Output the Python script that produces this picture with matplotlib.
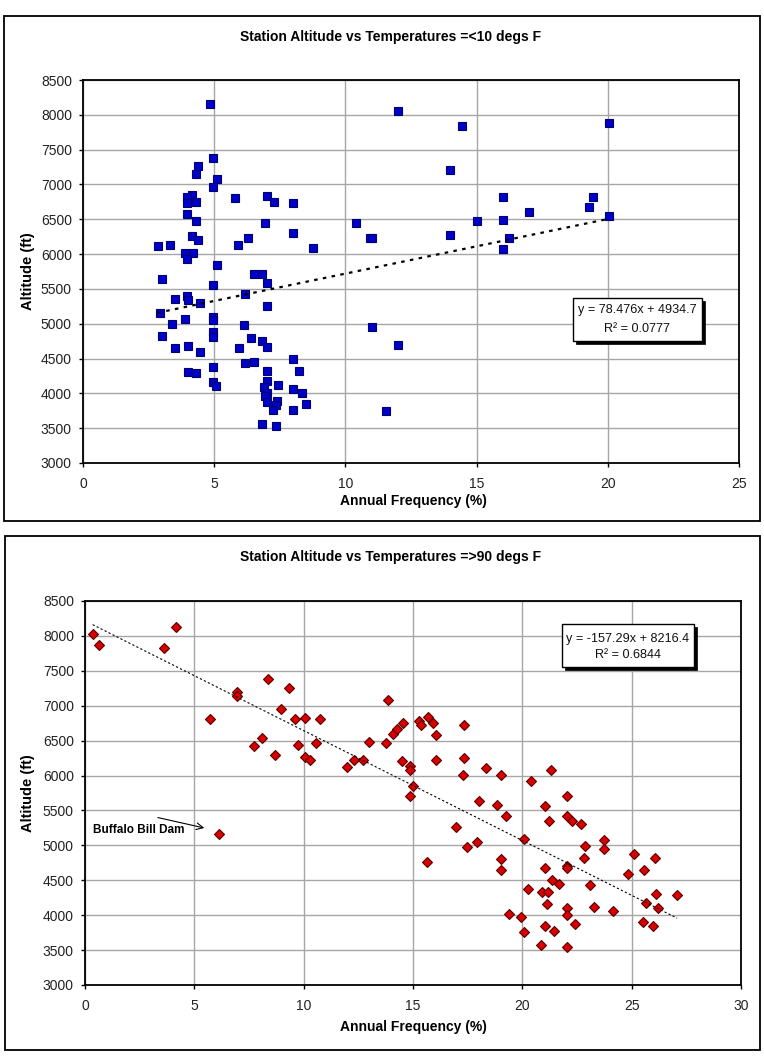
import matplotlib
matplotlib.use("Agg")
import matplotlib.pyplot as plt
from matplotlib.patches import Rectangle
import numpy as np

plt.rcParams['font.family'] = ['Liberation Sans', 'DejaVu Sans']

# ---------------- data ----------------
cold_title = "Station Altitude vs Temperatures =<10 degs F"
hot_title = "Station Altitude vs Temperatures =>90 degs F"
x_label = "Annual Frequency (%)"
y_label = "Altitude (ft)"

cold_freq = [4.85, 12.0, 14.45, 20.05, 4.97, 4.40, 4.31, 5.10, 4.97, 14.0,
             4.15, 3.98, 3.98, 4.31, 5.81, 7.01, 7.29, 8.0, 16.0, 19.45,
             19.3, 17.0, 20.05, 3.98, 4.31, 6.95, 10.4, 15.0, 16.0, 8.0,
             4.15, 4.38, 6.30, 2.84, 3.31, 5.92, 10.95, 11.0, 14.0, 16.25,
             8.75, 16.0, 3.89, 4.21, 3.98, 5.10, 3.0, 6.53, 6.82, 7.01,
             4.97, 3.95, 3.51, 3.99, 4.44, 6.16, 7.01, 2.94, 4.97, 4.97,
             3.38, 3.87, 6.12, 4.97, 4.97, 3.0, 6.40, 6.82, 7.01, 3.49,
             4.0, 4.44, 5.95, 8.0, 6.16, 6.53, 7.01, 8.22, 4.0, 4.31,
             4.97, 4.97, 5.08, 7.01, 6.91, 7.45, 8.0, 8.35, 7.01, 6.95,
             7.01, 7.39, 7.37, 7.23, 8.48, 8.0, 11.53, 6.82, 7.35, 11.0,
             12.0]
cold_alt = [8150, 8055, 7845, 7885, 7385, 7265, 7150, 7085, 6965, 7205,
            6845, 6825, 6740, 6750, 6800, 6830, 6750, 6730, 6815, 6825,
            6680, 6605, 6550, 6575, 6475, 6440, 6440, 6480, 6490, 6305,
            6260, 6200, 6235, 6115, 6125, 6125, 6230, 6230, 6270, 6225,
            6090, 6075, 6020, 6020, 5930, 5850, 5640, 5710, 5710, 5585,
            5555, 5400, 5355, 5335, 5300, 5425, 5255, 5160, 5100, 5050,
            4995, 5075, 4980, 4875, 4805, 4825, 4795, 4750, 4670, 4645,
            4680, 4595, 4645, 4500, 4430, 4450, 4320, 4325, 4310, 4295,
            4380, 4165, 4105, 4175, 4095, 4115, 4065, 4005, 4010, 3960,
            3870, 3890, 3840, 3765, 3845, 3755, 3750, 3565, 3535, 4955,
            4690]

hot_freq = [0.35, 0.66, 3.59, 4.16, 5.73, 6.93, 6.97, 8.37, 9.31, 8.96,
            9.62, 7.72, 8.11, 8.71, 9.75, 10.05, 10.73, 10.55, 10.05, 10.28,
            12.0, 12.28, 12.71, 12.97, 13.78, 13.85, 14.07, 14.27, 14.53, 15.26,
            15.37, 15.69, 15.93, 16.05, 16.05, 14.5, 14.88, 14.88, 15.01, 14.88,
            6.12, 15.66, 17.31, 17.31, 17.28, 18.36, 19.04, 20.41, 21.33, 18.04,
            18.82, 19.24, 16.97, 17.46, 17.92, 19.04, 19.04, 20.06, 22.03, 21.04,
            21.24, 22.03, 22.25, 22.67, 22.87, 23.75, 23.75, 22.81, 22.03, 22.03,
            21.04, 25.09, 26.07, 24.82, 25.58, 21.34, 21.68, 23.09, 20.26, 20.9,
            21.19, 21.12, 22.03, 22.03, 23.26, 24.14, 26.1, 27.08, 25.66, 26.19,
            25.52, 25.96, 19.39, 19.95, 20.06, 21.04, 21.44, 22.39, 20.86, 22.03]
hot_alt = [8030, 7866, 7832, 8130, 6805, 7199, 7137, 7378, 7258, 6956,
           6815, 6430, 6537, 6298, 6431, 6827, 6808, 6465, 6265, 6226,
           6116, 6216, 6226, 6479, 6465, 7080, 6594, 6665, 6751, 6788,
           6727, 6837, 6751, 6574, 6216, 6202, 6130, 6073, 5844, 5702,
           5164, 4758, 6717, 6251, 6012, 6108, 6012, 5926, 6083, 5640,
           5583, 5426, 5258, 4978, 5054, 4806, 4653, 5097, 5702, 5559,
           5354, 5416, 5344, 5307, 4997, 5082, 4954, 4820, 4700, 4672,
           4677, 4877, 4815, 4596, 4643, 4510, 4453, 4429, 4380, 4329,
           4334, 4167, 4106, 4000, 4115, 4067, 4310, 4292, 4177, 4106,
           3900, 3852, 4010, 3971, 3757, 3852, 3767, 3877, 3571, 3542]

cold_xticks = [0, 5, 10, 15, 20, 25]
hot_xticks = [0, 5, 10, 15, 20, 25, 30]
alt_ticks = [3000, 3500, 4000, 4500, 5000, 5500, 6000, 6500, 7000, 7500, 8000, 8500]

cold_slope, cold_icept, cold_r2 = 78.476, 4934.7, 0.0777
hot_slope, hot_icept, hot_r2 = -157.29, 8216.4, 0.6844

note_text = "Buffalo Bill Dam"

# ---------------- layout helpers ----------------
W, H = 764, 1056
fig = plt.figure(figsize=(W / 100, H / 100), dpi=100)
fig.patch.set_facecolor('white')


def fx(x):
    return x / W


def fy(y):
    return 1 - y / H


def frame(l, t, r, b, lw=1.3):
    fig.add_artist(Rectangle((fx(l), fy(b)), (r - l) / W, (b - t) / H,
                             transform=fig.transFigure, fill=False,
                             ec='black', lw=lw))


def eq_box(l, t, r, b, lines, ys):
    fig.add_artist(Rectangle((fx(l + 3), fy(b + 3)), (r - l) / W, (b - t) / H,
                             transform=fig.transFigure, fc='black', ec='black',
                             lw=0.5, zorder=10))
    fig.add_artist(Rectangle((fx(l), fy(b)), (r - l) / W, (b - t) / H,
                             transform=fig.transFigure, fc='white', ec='black',
                             lw=1.0, zorder=11))
    for s, yy in zip(lines, ys):
        fig.text(fx((l + r) / 2), fy(yy), s, ha='center', va='center',
                 fontsize=9.1, color='#111111', zorder=12)


def style_axes(ax, xticks):
    ax.set_xlim(xticks[0], xticks[-1])
    ax.set_ylim(alt_ticks[0], alt_ticks[-1])
    ax.set_xticks(xticks)
    ax.set_yticks(alt_ticks)
    ax.grid(True, color='#a6a6a6', lw=1.0)
    ax.set_axisbelow(True)
    for s in ax.spines.values():
        s.set_color('black')
        s.set_linewidth(1.3)
    ax.tick_params(axis='x', direction='out', length=3, width=1, pad=7,
                   labelsize=10, labelcolor='#222222')
    ax.tick_params(axis='y', direction='out', length=3, width=1, pad=5,
                   labelsize=10, labelcolor='#222222')


# ---------------- top chart ----------------
frame(4, 16, 760, 521)
ax1 = fig.add_axes([fx(83), fy(463), 656 / W, 383 / H])
style_axes(ax1, cold_xticks)
ax1.plot(cold_freq, cold_alt, ls='none', marker='s', ms=5.8,
         mfc='#0000C8', mec='#000070', mew=0.8, zorder=3)
xs = np.array([min(cold_freq), max(cold_freq)])
ax1.plot(xs, cold_slope * xs + cold_icept, color='black', lw=1.6,
         ls=(0, (1.6, 2.4)), zorder=4)
fig.text(fx(391), fy(37), cold_title, ha='center', va='center',
         fontsize=10, fontweight='bold')
fig.text(fx(413), fy(501), x_label, ha='center', va='center',
         fontsize=10, fontweight='bold')
fig.text(fx(28), fy(271), y_label, ha='center', va='center', rotation=90,
         fontsize=10.5, fontweight='bold')
eq_box(573, 298, 702, 341,
       [f"y = {cold_slope}x + {cold_icept}", f"R² = {cold_r2}"],
       [310, 329])

# ---------------- bottom chart ----------------
frame(5, 536, 760, 1050)
ax2 = fig.add_axes([fx(85), fy(985), 656 / W, 384 / H])
style_axes(ax2, hot_xticks)
ax2.plot(hot_freq, hot_alt, ls='none', marker='D', ms=4.6,
         mfc='#D80000', mec='#580000', mew=0.8, zorder=3)
xs2 = np.array([min(hot_freq), max(hot_freq)])
ax2.plot(xs2, hot_slope * xs2 + hot_icept, color='black', lw=0.8,
         ls=(0, (2, 2)), zorder=4)
fig.text(fx(391), fy(557), hot_title, ha='center', va='center',
         fontsize=10, fontweight='bold')
fig.text(fx(413), fy(1027), x_label, ha='center', va='center',
         fontsize=10, fontweight='bold')
fig.text(fx(28), fy(793), y_label, ha='center', va='center', rotation=90,
         fontsize=10.5, fontweight='bold')
eq_box(562, 624, 694, 667,
       [f"y = {hot_slope}x + {hot_icept}", f"R² = {hot_r2}"],
       [639, 655])

# annotation (Buffalo Bill Dam)
ax2.text(0.38, 5225, note_text, ha='left', va='center', fontsize=8.5,
         fontweight='bold', zorder=5)
ax2.annotate('', xy=(5.58, 5240), xytext=(3.21, 5407),
             arrowprops=dict(arrowstyle='->', lw=0.8, color='black',
                             mutation_scale=12), zorder=5)

fig.savefig('out.png', dpi=100, facecolor='white')
